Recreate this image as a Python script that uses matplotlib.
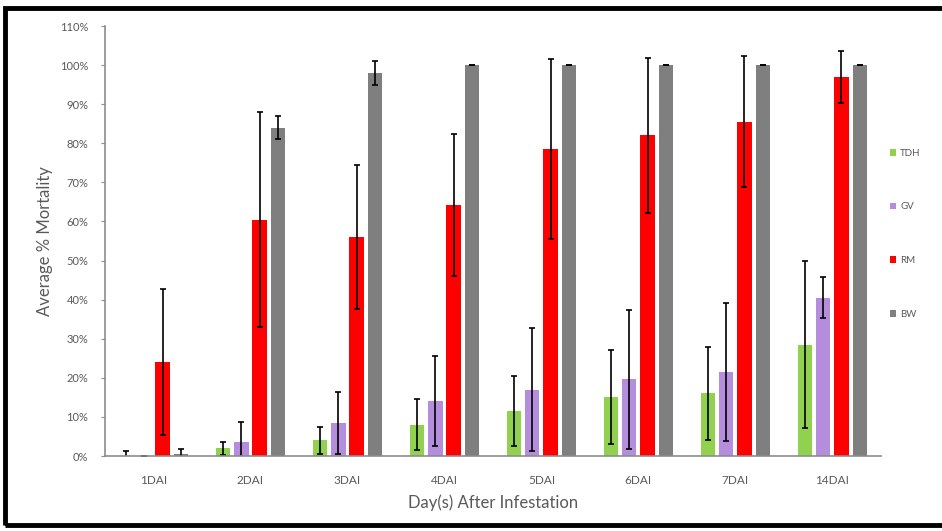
import matplotlib
matplotlib.use("Agg")
import matplotlib.pyplot as plt
import numpy as np
from matplotlib.patches import Rectangle
from matplotlib.ticker import PercentFormatter

# Data (percent mortality)
days = ["1DAI", "2DAI", "3DAI", "4DAI", "5DAI", "6DAI", "7DAI", "14DAI"]
series = ["TDH", "GV", "RM", "BW"]

tdh = [0.0, 2.0, 4.0, 8.0, 11.5, 15.0, 16.0, 28.5]
tdh_err = [1.3, 1.7, 3.5, 6.5, 9.0, 12.0, 12.0, 21.3]
gv = [0.0, 3.5, 8.5, 14.0, 17.0, 19.6, 21.5, 40.5]
gv_err = [0.0, 5.3, 8.0, 11.5, 15.8, 17.7, 17.7, 5.2]
rm = [24.0, 60.5, 56.0, 64.3, 78.5, 82.0, 85.5, 97.0]
rm_err = [18.7, 27.5, 18.5, 18.2, 23.0, 19.8, 16.8, 6.7]
bw = [0.5, 84.0, 98.0, 100.0, 100.0, 100.0, 100.0, 100.0]
bw_err = [1.4, 3.0, 3.0, 0.0, 0.0, 0.0, 0.0, 0.0]

colors = ["#92D050", "#B48EDC", "#FF0000", "#7F7F7F"]

fig = plt.figure(figsize=(9.42, 5.31), dpi=100)
ax = fig.add_axes([0.1115, 0.1412, 0.8235, 0.8098])

x = np.arange(len(days))
step = 0.189
width = 0.15
values = [tdh, gv, rm, bw]
errors = [tdh_err, gv_err, rm_err, bw_err]

for i, (name, vals, errs) in enumerate(zip(series, values, errors)):
    ax.bar(x + (i - 1.5) * step, vals, width, color=colors[i], label=name,
           yerr=errs, error_kw=dict(ecolor="black", elinewidth=1.2, capsize=2.5, capthick=1.2),
           zorder=2)

ax.set_xlim(-0.5, len(days) - 0.5)
ax.set_ylim(0, 110)
ax.set_yticks(np.arange(0, 111, 10))
ax.yaxis.set_major_formatter(PercentFormatter(decimals=0))
ax.set_xticks(x)
ax.set_xticklabels(days)

for s in ["top", "right"]:
    ax.spines[s].set_visible(False)
for s in ["left", "bottom"]:
    ax.spines[s].set_color("#8C8C8C")
    ax.spines[s].set_linewidth(1.2)

ax.tick_params(axis="y", length=3, color="#8C8C8C", labelsize=8, labelcolor="#595959", pad=9)
ax.tick_params(axis="x", length=0, labelsize=8.5, labelcolor="#595959", pad=14)
for lab in ax.get_xticklabels() + ax.get_yticklabels():
    lab.set_family("Lato")

ax.set_ylabel("Average % Mortality", fontsize=12, color="#595959", family="Lato", labelpad=5)
ax.set_xlabel("Day(s) After Infestation", fontsize=12, color="#595959", family="Lato", labelpad=5.5)

leg = ax.legend(loc="center left", bbox_to_anchor=(1.0, 0.517), frameon=False,
                labelspacing=4.6, handlelength=0.7, handleheight=0.7,
                handletextpad=0.4, prop={"family": "Lato", "size": 7})
for t in leg.get_texts():
    t.set_color("#595959")

# black frame around the figure (right side cut off in the reference)
fig.patches.append(Rectangle((0.005, 0.012), 1.1, 0.973, transform=fig.transFigure,
                             fill=False, edgecolor="black", linewidth=3.5, clip_on=False))

fig.savefig("out.png", dpi=100)
